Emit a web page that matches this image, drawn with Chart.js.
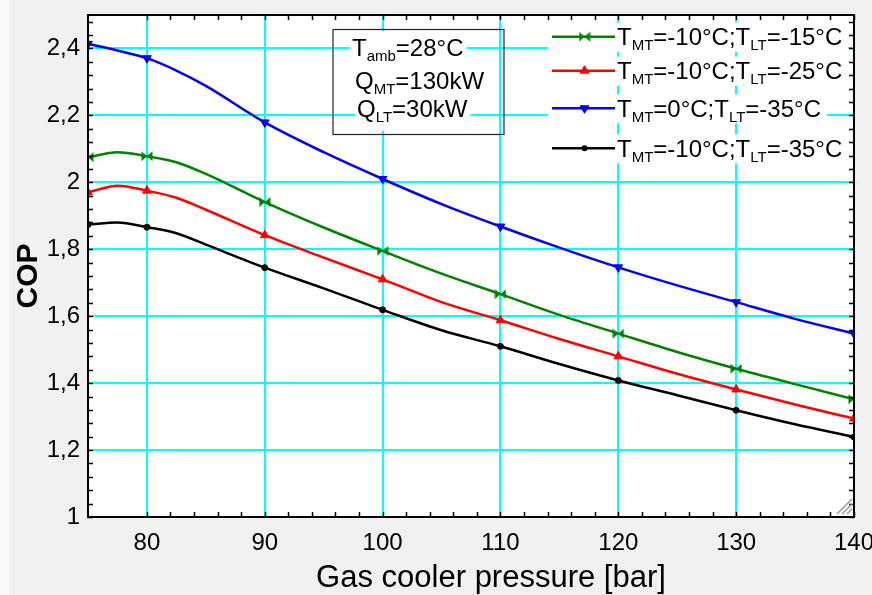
<!DOCTYPE html>
<html><head><meta charset="utf-8">
<script src="https://cdn.jsdelivr.net/npm/chart.js@4.4.0/dist/chart.umd.min.js"></script>
<style>html,body{margin:0;padding:0;background:#f0f0f0;overflow:hidden}canvas{display:block}</style>
</head><body>
<canvas id="c" width="872" height="595"></canvas>
<script>
// ---- data ----
const pressure = [75, 77.5, 80, 82.5, 85, 90, 95, 100, 105, 110, 115, 120, 125, 130, 135, 140];
const markerPressures = [75, 80, 90, 100, 110, 120, 130, 140];
const copMT10LT15 = [2.075, 2.090, 2.078, 2.060, 2.025, 1.941, 1.865, 1.795, 1.727, 1.666, 1.604, 1.548, 1.493, 1.443, 1.397, 1.352];
const copMT10LT25 = [1.970, 1.990, 1.975, 1.954, 1.918, 1.842, 1.775, 1.710, 1.642, 1.588, 1.532, 1.480, 1.428, 1.381, 1.336, 1.294];
const copMT0LT35  = [2.414, 2.394, 2.371, 2.334, 2.288, 2.179, 2.090, 2.010, 1.935, 1.868, 1.805, 1.746, 1.692, 1.642, 1.592, 1.548];
const copMT10LT35 = [1.874, 1.880, 1.866, 1.848, 1.814, 1.745, 1.683, 1.619, 1.558, 1.510, 1.457, 1.408, 1.364, 1.319, 1.277, 1.239];
const xTicks = [80, 90, 100, 110, 120, 130, 140];
const yTicks = [1, 1.2, 1.4, 1.6, 1.8, 2, 2.2, 2.4];
const xMinorStep = 2;
const yMinorStep = 0.04;
const xTitle = 'Gas cooler pressure [bar]';
const yTitle = 'COP';
const legendParts = [
  [['T',0],['MT',1],['=-10°C;T',0],['LT',1],['=-15°C',0]],
  [['T',0],['MT',1],['=-10°C;T',0],['LT',1],['=-25°C',0]],
  [['T',0],['MT',1],['=0°C;T',0],['LT',1],['=-35°C',0]],
  [['T',0],['MT',1],['=-10°C;T',0],['LT',1],['=-35°C',0]]
];
const infoParts = [
  [['T',0],['amb',1],['=28°C',0]],
  [['Q',0],['MT',1],['=130kW',0]],
  [['Q',0],['LT',1],['=30kW',0]]
];

const FAM = '"Liberation Sans", Arial, sans-serif';

function bowtie(color){
  const c = document.createElement('canvas'); c.width = 12; c.height = 12;
  const g = c.getContext('2d'); g.fillStyle = color;
  g.beginPath(); g.moveTo(0.5,1); g.lineTo(6,6); g.lineTo(0.5,11); g.closePath();
  g.moveTo(11.5,1); g.lineTo(6,6); g.lineTo(11.5,11); g.closePath(); g.fill();
  return c;
}
const greenMark = bowtie('#008000');

function plain(parts){ return parts.map(p=>p[0]).join(''); }

const seriesDefs = [
  {data: copMT10LT15, color:'#008000', style: greenMark, rot:0, r:6},
  {data: copMT10LT25, color:'#ff0000', style:'triangle', rot:0, r:5},
  {data: copMT0LT35,  color:'#0000ff', style:'triangle', rot:180, r:5},
  {data: copMT10LT35, color:'#000000', style:'circle', rot:0, r:3}
];

const datasets = seriesDefs.map((s,k)=>({
  label: plain(legendParts[k]),
  data: pressure.map((p,i)=>({x:p, y:s.data[i]})),
  borderColor: s.color, backgroundColor: s.color,
  borderWidth: 2.5,
  pointStyle: s.style, pointRotation: s.rot,
  pointRadius: ctx => markerPressures.includes(pressure[ctx.dataIndex]) ? s.r : 0,
  pointHoverRadius: 0, pointBorderWidth: 1,
  pointBorderColor: s.color, pointBackgroundColor: s.color,
  cubicInterpolationMode: 'monotone', fill: false
}));

function richWidth(ctx, parts, big, small){
  let w = 0;
  for (const [t,sub] of parts){ ctx.font = (sub?small:big)+'px '+FAM; w += ctx.measureText(t).width; }
  return w;
}
function drawRich(ctx, parts, x, y, big, small, drop){
  let cx = x;
  ctx.textBaseline = 'alphabetic'; ctx.textAlign = 'left';
  for (const [t,sub] of parts){
    ctx.font = (sub?small:big)+'px '+FAM;
    ctx.fillText(t, cx, sub ? y+drop : y);
    cx += ctx.measureText(t).width;
  }
  return cx;
}
function drawMarker(ctx, s, x, y){
  ctx.save();
  ctx.fillStyle = s.color; ctx.strokeStyle = s.color; ctx.lineWidth = 1;
  if (s.style === 'circle'){ ctx.beginPath(); ctx.arc(x,y,s.r,0,Math.PI*2); ctx.fill(); }
  else if (s.style === 'triangle'){
    const r = s.r; let a = s.rot*Math.PI/180;
    ctx.beginPath();
    for (let i=0;i<3;i++){ const px = x+Math.sin(a)*r, py = y-Math.cos(a)*r; i?ctx.lineTo(px,py):ctx.moveTo(px,py); a += 2*Math.PI/3; }
    ctx.closePath(); ctx.fill(); ctx.stroke();
  } else { ctx.drawImage(s.style, x-6, y-6); }
  ctx.restore();
}

const deco = {
  id: 'deco',
  beforeDraw(chart){
    const {ctx, chartArea:a} = chart;
    ctx.save();
    ctx.fillStyle = '#f0f0f0'; ctx.fillRect(0,0,chart.width,chart.height);
    ctx.fillStyle = '#f8f8f8'; ctx.fillRect(0,0,9,chart.height);
    ctx.fillStyle = '#ffffff'; ctx.fillRect(a.left,a.top,a.right-a.left,a.bottom-a.top);
    ctx.restore();
  },
  afterDatasetsDraw(chart){
    const ctx = chart.ctx;
    ctx.save();
    // info box
    const infoBase = [56, 88.5, 117];
    const infoX = [352, 355, 357];
    const rowTop = [31, 64, 97], rowBot = [64, 97, 131];
    infoParts.forEach((p,i)=>{
      const w = richWidth(ctx, p, 24, 15);
      ctx.fillStyle = '#fff'; ctx.fillRect(infoX[i]-2, rowTop[i], w+5, rowBot[i]-rowTop[i]);
    });
    ctx.strokeStyle = '#222'; ctx.lineWidth = 1.2;
    ctx.strokeRect(333, 29.5, 171, 105);
    infoParts.forEach((p,i)=>{ ctx.fillStyle = '#000'; drawRich(ctx, p, infoX[i], infoBase[i], 24, 15, 5); });
    // legend
    const lineY = [36.7, 70.7, 108.3, 148.3];
    const x0 = 552, x1 = 615, tx = 617;
    legendParts.forEach((p,i)=>{
      const w = richWidth(ctx, p, 24, 15);
      ctx.fillStyle = '#fff'; ctx.fillRect(x0-4, lineY[i]-14, tx+w+6-(x0-4), 29);
    });
    legendParts.forEach((p,i)=>{
      const s = seriesDefs[i];
      ctx.strokeStyle = s.color; ctx.lineWidth = 2.5;
      ctx.beginPath(); ctx.moveTo(x0, lineY[i]); ctx.lineTo(x1, lineY[i]); ctx.stroke();
      drawMarker(ctx, s, (x0+x1)/2+1, lineY[i]);
      ctx.fillStyle = '#000';
      drawRich(ctx, p, tx, lineY[i]+8.6, 24, 15, 5);
    });
    ctx.restore();
  },
  afterDraw(chart){
    const {ctx, chartArea:a, scales} = chart;
    const xs = scales.x, ys = scales.y;
    ctx.save();
    // inward tick marks
    ctx.strokeStyle = '#000'; ctx.lineWidth = 1.5;
    ctx.beginPath();
    for (let v = xTicks[0]; v <= xs.max + 1e-9; v += xMinorStep){
      const px = Math.round(xs.getPixelForValue(v)) + 0.5;
      ctx.moveTo(px, a.bottom); ctx.lineTo(px, a.bottom-5);
      ctx.moveTo(px, a.top); ctx.lineTo(px, a.top+5);
    }
    for (let v = yTicks[0]; v <= ys.max + 1e-9; v += yMinorStep){
      const py = Math.round(ys.getPixelForValue(v)) + 0.5;
      ctx.moveTo(a.left, py); ctx.lineTo(a.left+5, py);
      ctx.moveTo(a.right, py); ctx.lineTo(a.right-5, py);
    }
    ctx.stroke();
    // frame
    ctx.lineWidth = 2; ctx.strokeStyle = '#000';
    ctx.strokeRect(a.left, a.top, a.right-a.left, a.bottom-a.top);
    // resize grip
    ctx.strokeStyle = '#9a9a9a'; ctx.lineWidth = 1.5;
    ctx.beginPath();
    for (const k of [5, 10, 15]){
      ctx.moveTo(a.right-2-k, a.bottom-3); ctx.lineTo(a.right-2, a.bottom-3-k);
    }
    ctx.stroke();
    // x title
    ctx.fillStyle = '#000'; ctx.font = '31px '+FAM;
    ctx.textAlign = 'center'; ctx.textBaseline = 'alphabetic';
    ctx.fillText(xTitle, 491, 587);
    // y title
    ctx.translate(29, 276); ctx.rotate(-Math.PI/2);
    ctx.fillStyle = '#000'; ctx.font = 'bold 30px '+FAM;
    ctx.textAlign = 'center'; ctx.textBaseline = 'middle';
    ctx.fillText(yTitle, 0, 0);
    ctx.restore();
  }
};

new Chart(document.getElementById('c'), {
  type: 'line',
  data: { datasets },
  plugins: [deco],
  options: {
    responsive: false, animation: false, devicePixelRatio: 1,
    layout: { padding: { left: 0, right: 18, top: 15, bottom: 0 } },
    plugins: { legend: { display: false }, tooltip: { enabled: false } },
    scales: {
      x: {
        type: 'linear', min: 75, max: 140,
        afterBuildTicks: s => { s.ticks = xTicks.map(v => ({value: v})); },
        afterFit: s => { s.height = 78; s.paddingLeft = 0; s.paddingRight = 0; },
        grid: { color: '#00ffff', lineWidth: 2, drawTicks: false },
        border: { display: false },
        ticks: { color: '#000', font: { size: 24, family: FAM }, padding: 12, maxRotation: 0, autoSkip: false },
        title: { display: false, text: xTitle }
      },
      y: {
        type: 'linear', min: 1, max: 2.5,
        afterBuildTicks: s => { s.ticks = yTicks.map(v => ({value: v})); },
        afterFit: s => { s.width = 88; s.paddingTop = 0; s.paddingBottom = 0; },
        grid: { color: '#00ffff', lineWidth: 2, drawTicks: false },
        border: { display: false },
        ticks: { color: '#000', font: { size: 24, family: FAM }, padding: 8,
          callback: v => String(Math.round(v*10)/10).replace('.', ',') },
        title: { display: false, text: yTitle }
      }
    }
  }
});
</script>
</body></html>
